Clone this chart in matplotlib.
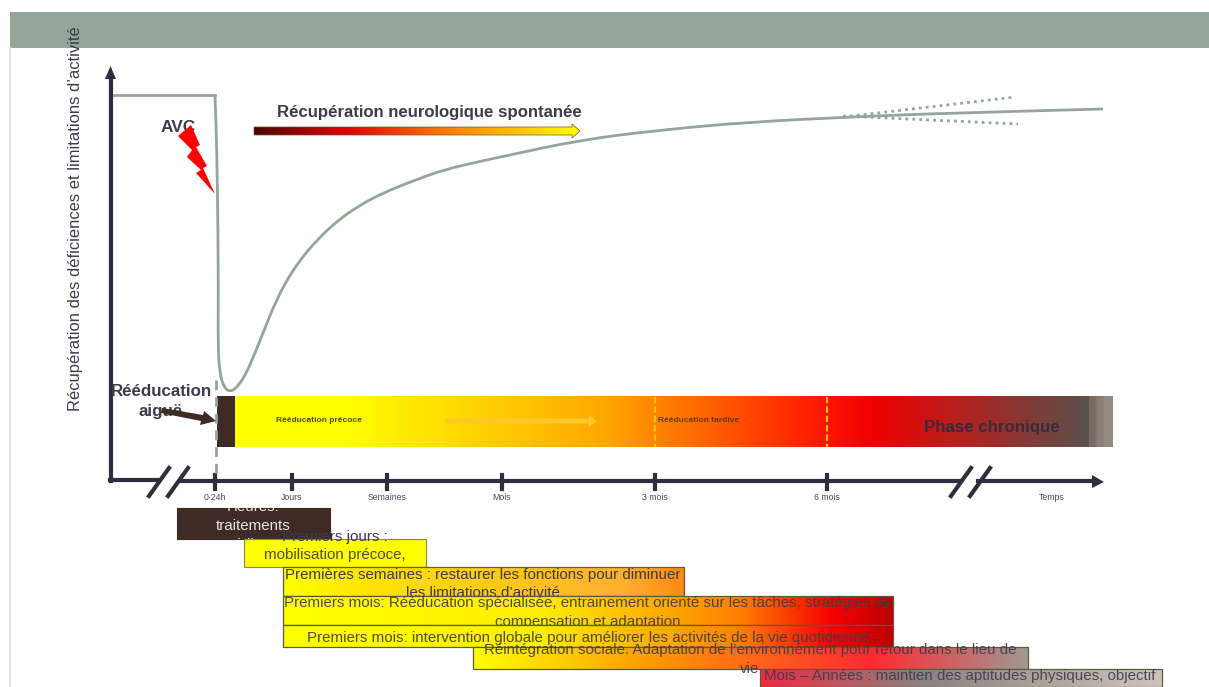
import matplotlib
matplotlib.use("Agg")
import matplotlib.pyplot as plt
import numpy as np
from matplotlib.colors import LinearSegmentedColormap
from matplotlib.patches import PathPatch, Polygon, Rectangle
from matplotlib.path import Path

plt.rcParams["font.family"] = ["Liberation Sans", "DejaVu Sans"]

# Recovery curve (pixels)
plateau_x = [111, 215]
plateau_y = [95, 95]
curve_x = [215, 216, 217.5, 218.4, 218, 219.5, 224, 231, 238, 246, 255, 265, 273, 285, 300, 317, 337, 360,
           383, 410, 443, 477, 510, 580, 660, 750, 850, 950, 1103]
curve_y = [95, 120, 187, 287, 345, 372, 388, 392, 386, 374, 353, 328, 308, 283, 260, 240, 221, 205,
           193, 182, 170, 162, 155, 140, 130, 122, 117, 113, 109]
upper_x = [843, 1015]
upper_y = [117, 97]
lower_x = [843, 1018]
lower_y = [116, 124]

tick_x = [215, 292, 387, 502, 655, 827]
tick_labels = ["0-24h", "Jours", "Semaines", "Mois", "3 mois", "6 mois"]

# name, left, right, top, bottom, gradient stops
bars = [
    ("semaines", 283, 684, 567, 596, [(0, "#ffff00"), (0.25, "#ffe000"), (0.85, "#ffb030"), (1, "#ff8a10")]),
    ("mois1", 283, 893, 596, 625, [(0, "#ffff00"), (0.42, "#ffee00"), (0.75, "#ff8000"), (0.9, "#f80000"), (1, "#bb0000")]),
    ("mois2", 283, 893, 625, 647, [(0, "#ffff00"), (0.42, "#ffee00"), (0.75, "#ff8000"), (0.9, "#f80000"), (1, "#bb0000")]),
    ("social", 473, 1028, 647, 669, [(0, "#ffff00"), (0.3, "#ffa000"), (0.72, "#ff2a30"), (1, "#a09892")]),
    ("annees", 760, 1162, 669, 687, [(0, "#ef2a40"), (0.4, "#8a8280"), (1, "#cfc4bc")]),
]
main_stops = [(0, "#ffff00"), (0.125, "#ffff00"), (0.42, "#ffa800"), (0.68, "#ff1000"), (0.73, "#f00000"),
              (0.973, "#5a514b"), (0.974, "#766c64"), (0.982, "#766c64"), (0.983, "#8a7f75"),
              (0.99, "#8a7f75"), (0.991, "#958a7e"), (1, "#958a7e")]
spont_stops = [(0, "#4a0505"), (0.28, "#e00000"), (0.6, "#ff8000"), (0.85, "#ffd000"), (1, "#ffff00")]

AXIS = "#2e2e3e"
SAGE = "#95a59b"
TEXT = "#3c3c4c"
BOX_SIZE = 10.9


def gradient(ax, left, right, top, bottom, stops, zorder=2):
    cmap = LinearSegmentedColormap.from_list("g", stops, N=512)
    row = np.linspace(0, 1, 800).reshape(1, -1)
    return ax.imshow(row, cmap=cmap, extent=(left, right, bottom, top), aspect="auto", zorder=zorder)


def smooth_path(xs, ys):
    # Read points act as quadratic control points so the line has no kinks.
    pts = np.column_stack([xs, ys])
    verts = [pts[0]]
    codes = [Path.MOVETO]
    for i in range(1, len(pts) - 1):
        end = pts[i + 1] if i == len(pts) - 2 else (pts[i] + pts[i + 1]) / 2
        verts += [pts[i], end]
        codes += [Path.CURVE3, Path.CURVE3]
    return Path(verts, codes)


fig = plt.figure(figsize=(12.09, 6.87), dpi=100)
ax = fig.add_axes([0, 0, 1, 1])

# Slide header band and left edge
ax.add_patch(Rectangle((10, 12), 1199, 36, color=SAGE, lw=0, zorder=1))
ax.plot([9.5, 9.5], [48, 687], color="#e4e4e4", lw=1.5, zorder=1)

ax.text(76, 219, "Récupération des déficiences et limitations d’activité", rotation=90,
        ha="center", va="center", fontsize=11.9, color=TEXT, zorder=6)

# Curve and its dotted fan
ax.plot(plateau_x, plateau_y, color=SAGE, lw=2, zorder=3)
ax.add_patch(PathPatch(smooth_path(curve_x, curve_y), fc="none", ec=SAGE, lw=2, zorder=3))
ax.plot(upper_x, upper_y, color=SAGE, lw=2, ls=(0, (1, 1.5)), zorder=3)
ax.plot(lower_x, lower_y, color=SAGE, lw=2, ls=(0, (1, 1.5)), zorder=3)

# Axes with arrows
ax.plot([110.5, 110.5], [78, 481], color=AXIS, lw=3, zorder=4, solid_capstyle="projecting")
ax.add_patch(Polygon([(105, 79), (116, 79), (110.5, 66)], color=AXIS, lw=0, zorder=4))
ax.plot([110, 157], [480, 480], color=AXIS, lw=3, zorder=4)
ax.plot([180, 960], [481, 481], color=AXIS, lw=3, zorder=4)
ax.plot([978, 1094], [481, 481], color=AXIS, lw=3, zorder=4)
ax.add_patch(Polygon([(1092, 475), (1104, 482), (1092, 488)], color=AXIS, lw=0, zorder=4))
for x0 in [149, 168, 951, 970]:
    ax.plot([x0, x0 + 20], [496, 468], color=AXIS, lw=3, zorder=5)

for x, lab in zip(tick_x, tick_labels):
    ax.plot([x, x], [475, 489], color=AXIS, lw=3, zorder=4)
    ax.text(x, 498, lab, ha="center", va="center", fontsize=6.3, color="#4a4a58", zorder=6)
ax.text(1052, 498, "Temps", ha="center", va="center", fontsize=6.3, color="#4a4a58", zorder=6)

# Stroke marker
ax.text(178, 127, "AVC", ha="center", va="center", fontsize=12.4, fontweight="bold", color=TEXT, zorder=5)
ax.add_patch(Polygon([(178, 136), (191, 125), (200, 145), (196, 147), (207, 166), (203, 168), (215, 194),
                     (196, 173), (201, 170), (187, 157), (192, 150)], color="#ff0000", lw=0, zorder=6))

# Spontaneous recovery arrow
ax.text(429, 113, "Récupération neurologique spontanée", ha="center", va="center", fontsize=12.1,
        fontweight="bold", color=TEXT, zorder=5)
arrow_outline = [(254, 127), (572, 127), (572, 124), (580, 131), (572, 138), (572, 135), (254, 135)]
im = gradient(ax, 254, 580, 124, 138, spont_stops, zorder=4)
clip = Polygon(arrow_outline, transform=ax.transData, fc="none", ec="none")
ax.add_patch(clip)
im.set_clip_path(clip)
ax.add_patch(Polygon(arrow_outline, fc="none", ec="#6a5a30", lw=0.5, zorder=5))

# Main rehabilitation band
gradient(ax, 235, 1113, 396, 447, main_stops)
ax.add_patch(Rectangle((217, 396), 18, 51, color="#3f2a25", lw=0, zorder=3))
ax.plot([215.5, 215.5], [380, 478], color=SAGE, lw=2, ls=(0, (3.5, 2.5)), zorder=4)
for x in [655, 827]:
    ax.plot([x, x], [397, 447], color="#ffc000", lw=1.5, ls=(0, (3, 1.5)), zorder=4)
ax.add_patch(Polygon([(445, 418.5), (589, 418.5), (589, 415), (597, 421), (589, 427), (589, 423.5), (445, 423.5)],
                     color="#ffc82a", lw=0, zorder=4))
ax.text(276, 420, "Rééducation précoce", va="center", fontsize=6, fontweight="bold", color="#4a4a20", zorder=5)
ax.text(658, 420, "Rééducation tardive", va="center", fontsize=6, fontweight="bold", color="#6a3a10", zorder=5)
ax.text(992, 427.5, "Phase chronique", ha="center", va="center", fontsize=12.2, fontweight="bold", color="#3a2a3a", zorder=5)

ax.text(161, 401.5, "Rééducation\naiguë", ha="center", va="center", fontsize=12.2, fontweight="bold",
        color=TEXT, linespacing=1.42, zorder=5)
ax.add_patch(Polygon([(162, 408), (203, 415), (204, 411), (216, 421), (200, 425), (201, 421), (161, 413)],
                     color="#3f2a25", lw=0, zorder=6))

# Stacked timeline boxes
box1 = Rectangle((177, 508), 153, 31, fc="#3f2a25", ec="#3f2a25", lw=0.8, zorder=7)
ax.add_patch(box1)
for y, lab in zip([507, 526, 545], ["Heures:", "traitements", "médicaux"]):
    t = ax.text(253, y, lab, ha="center", va="center", fontsize=BOX_SIZE, color="#e8e4e2", zorder=8)
    t.set_clip_on(True)
    t.set_clip_path(box1)

ax.add_patch(Rectangle((244, 539), 182, 28, fc="#ffff00", ec="#8a8a40", lw=0.8, zorder=7))
ax.text(335, 537, "Premiers jours :", ha="center", va="center", fontsize=BOX_SIZE, color=TEXT, zorder=8)
ax.text(335, 555, "mobilisation précoce,", ha="center", va="center", fontsize=BOX_SIZE, color=TEXT, alpha=0.9, zorder=8)

for i, (name, left, right, top, bottom, stops) in enumerate(bars):
    z = 9 + i * 2
    gradient(ax, left, right, top, bottom, stops, zorder=z)
    ax.add_patch(Rectangle((left, top), right - left, bottom - top, fc="none", ec="#5e5a40", lw=0.9, zorder=z))

ax.text(483, 575, "Premières semaines : restaurer les fonctions pour diminuer", ha="center", va="center",
        fontsize=BOX_SIZE, color=TEXT, zorder=10)
ax.text(483, 593, "les limitations d’activité", ha="center", va="center", fontsize=BOX_SIZE, color=TEXT, zorder=10)
ax.text(588, 603, "Premiers mois: Rééducation spécialisée, entrainement orienté sur les tâches, stratégies de",
        ha="center", va="center", fontsize=BOX_SIZE, color=TEXT, alpha=0.9, zorder=12)
ax.text(588, 622, "compensation et adaptation", ha="center", va="center", fontsize=BOX_SIZE, color=TEXT, alpha=0.9, zorder=12)
ax.text(588, 638, "Premiers mois: intervention globale pour améliorer les activités de la vie quotidienne",
        ha="center", va="center", fontsize=BOX_SIZE, color=TEXT, alpha=0.9, zorder=14)
ax.text(750, 650, "Réintégration sociale. Adaptation de l’environnement pour retour dans le lieu de",
        ha="center", va="center", fontsize=BOX_SIZE, color=TEXT, alpha=0.9, zorder=16)
ax.text(750, 669, "vie", ha="center", va="center", fontsize=BOX_SIZE, color=TEXT, alpha=0.9, zorder=16)
ax.text(960, 676, "Mois – Années : maintien des aptitudes physiques, objectif", ha="center", va="center",
        fontsize=BOX_SIZE, color=TEXT, alpha=0.9, zorder=18)

ax.set_xlim(0, 1209)
ax.set_ylim(687, 0)
ax.axis("off")

fig.savefig("out.png", dpi=100)
